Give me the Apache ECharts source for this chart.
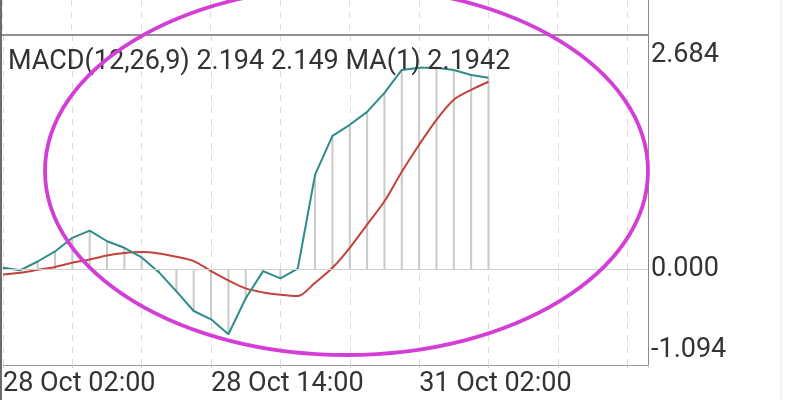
<!DOCTYPE html>
<html>
<head>
<meta charset="utf-8">
<script src="https://cdn.jsdelivr.net/npm/echarts@6/dist/echarts.min.js"></script>
<style>
html,body{margin:0;padding:0;background:#fff;}
#chart{width:789px;height:400px;}
</style>
</head>
<body>
<div id="chart"></div>
<script>
// ---- data ----
const legendText = 'MACD(12,26,9) 2.194 2.149 MA(1) 2.1942';
const tickPositions = [0, 12, 24];
const tickLabels = ['28 Oct 02:00', '28 Oct 14:00', '31 Oct 02:00'];
const yTicks = [-1.094, 0, 2.684];
const macd = [0.019, -0.008, 0.091, 0.206, 0.362, 0.445, 0.323, 0.248, 0.137, -0.034,
  -0.251, -0.476, -0.571, -0.742, -0.330, -0.019, -0.103, 0.008, 1.085, 1.530,
  1.656, 1.804, 2.021, 2.284, 2.310, 2.310, 2.284, 2.227, 2.194];
const signal = [-0.057, -0.038, -0.005, 0.029, 0.077, 0.114, 0.160, 0.188, 0.200, 0.183,
  0.145, 0.095, -0.019, -0.126, -0.217, -0.263, -0.291, -0.305, -0.152, 0.019,
  0.248, 0.514, 0.780, 1.119, 1.428, 1.713, 1.942, 2.056, 2.149];
const xMax = 37.2;

const FONT = 'Roboto';
const FS = 27;
const chart = echarts.init(document.getElementById('chart'), null, {renderer: 'canvas'});
const pts = a => a.map((v, i) => [i, v]);
const yMin = yTicks[0], yMax = yTicks[yTicks.length - 1];

chart.setOption({
  animation: false,
  backgroundColor: '#ffffff',
  title: {
    text: legendText, left: 3, top: 44,
    textStyle: {fontFamily: FONT, fontSize: FS, fontWeight: 'normal', color: '#333'}
  },
  grid: [
    {left: 2, right: 141, top: 35, bottom: 35},
    {left: 2, right: 141, top: 0, height: 35}
  ],
  xAxis: [
    {
      gridIndex: 0, type: 'value', min: 0, max: xMax, interval: 4,
      axisLine: {onZero: false, lineStyle: {color: '#9a9a9a', width: 1}},
      axisTick: {show: true, length: 3, lineStyle: {color: '#c8c8c8'}},
      splitLine: {show: true, lineStyle: {type: [6, 6], color: '#dcdcdc'}},
      axisLabel: {
        customValues: tickPositions,
        formatter: v => tickLabels[tickPositions.indexOf(v)] || '',
        align: 'left', margin: 6, color: '#333', fontFamily: FONT, fontSize: FS
      }
    },
    {
      gridIndex: 1, type: 'value', min: 0, max: xMax, interval: 4,
      axisLine: {onZero: false, lineStyle: {color: '#6e6e6e', width: 1.5}},
      axisTick: {show: false}, axisLabel: {show: false},
      splitLine: {show: true, lineStyle: {type: [6, 6], color: '#dcdcdc'}}
    }
  ],
  yAxis: [
    {
      gridIndex: 0, type: 'value', position: 'right', min: yMin, max: yMax,
      axisLine: {show: true, onZero: false, lineStyle: {color: '#8a8a8a'}},
      axisTick: {show: false}, splitLine: {show: false},
      axisLabel: {
        customValues: yTicks, margin: 3, color: '#333', fontFamily: FONT, fontSize: FS,
        formatter: v => {
          const s = v.toFixed(3);
          if (v === yMax) return '{t|' + s + '}';
          if (v === yMin) return '{b|' + s + '}';
          return '{m|' + s + '}';
        },
        rich: {
          t: {padding: [40, 0, 0, 0], fontFamily: FONT, fontSize: FS, color: '#333'},
          b: {padding: [0, 0, 30, 0], fontFamily: FONT, fontSize: FS, color: '#333'},
          m: {fontFamily: FONT, fontSize: FS, color: '#333'}
        }
      }
    },
    {
      gridIndex: 1, type: 'value', position: 'right', min: 0, max: 1,
      axisLine: {show: true, onZero: false, lineStyle: {color: '#8a8a8a'}},
      axisTick: {show: false}, splitLine: {show: false}, axisLabel: {show: false}
    }
  ],
  series: [
    {
      type: 'bar', xAxisIndex: 0, yAxisIndex: 0, data: pts(macd), barWidth: 2,
      itemStyle: {color: '#c9c9c9'}, silent: true, z: 1,
      markLine: {
        silent: true, symbol: 'none', label: {show: false},
        lineStyle: {color: '#d0d0d0', type: 'solid', width: 1},
        data: [{yAxis: 0}]
      }
    },
    {
      type: 'line', xAxisIndex: 0, yAxisIndex: 0, data: pts(signal), showSymbol: false,
      smooth: 0.3, lineStyle: {color: '#c4423a', width: 2}, z: 3
    },
    {
      type: 'line', xAxisIndex: 0, yAxisIndex: 0, data: pts(macd), showSymbol: false,
      lineStyle: {color: '#2f8c88', width: 2}, z: 4
    }
  ],
  graphic: [
    {type: 'line', shape: {x1: 1, y1: 0, x2: 1, y2: 400}, style: {stroke: '#3a3a3a', lineWidth: 1.5}, z: 10},
    {type: 'line', shape: {x1: 781, y1: 0, x2: 781, y2: 400}, style: {stroke: '#e8e8e8', lineWidth: 1}, z: 10},
    {type: 'ellipse', shape: {cx: 346.5, cy: 171, rx: 301.5, ry: 184},
     style: {stroke: '#d23ed6', lineWidth: 3.8, fill: null}, z: 20}
  ]
});
</script>
</body>
</html>
